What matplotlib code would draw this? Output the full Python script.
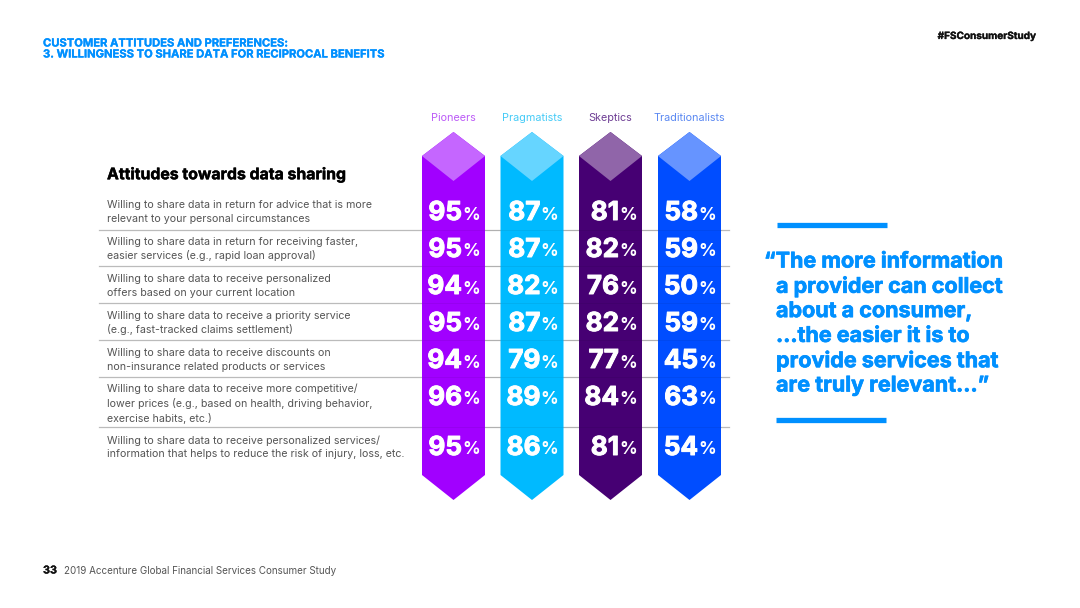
import matplotlib.pyplot as plt
import matplotlib.patheffects as pe
from matplotlib.patches import Polygon

plt.rcParams["font.family"] = ["Inter", "DejaVu Sans"]

segments = ["Pioneers", "Pragmatists", "Skeptics", "Traditionalists"]
pioneers = [95, 95, 94, 95, 94, 96, 95]
pragmatists = [87, 87, 82, 87, 79, 89, 86]
skeptics = [81, 82, 76, 82, 77, 84, 81]
traditionalists = [58, 59, 50, 59, 45, 63, 54]
statements = [
    "Willing to share data in return for advice that is more\nrelevant to your personal circumstances",
    "Willing to share data in return for receiving faster,\neasier services (e.g., rapid loan approval)",
    "Willing to share data to receive personalized\noffers based on your current location",
    "Willing to share data to receive a priority service\n(e.g., fast-tracked claims settlement)",
    "Willing to share data to receive discounts on\nnon-insurance related products or services",
    "Willing to share data to receive more competitive/\nlower prices (e.g., based on health, driving behavior,\nexercise habits, etc.)",
    "Willing to share data to receive personalized services/\ninformation that helps to reduce the risk of injury, loss, etc.",
]
quote_lines = [
    "\u201cThe more information",
    "a provider can collect",
    "about a consumer,",
    "...the easier it is to",
    "provide services that",
    "are truly relevant...\u201d",
]

# layout in pixels
col_left = [422, 500.5, 579, 658]
col_w = 63
col_dark = ["#A100FF", "#00BAFF", "#460073", "#004DFF"]
col_light = ["#C566FF", "#66D5FF", "#9065A9", "#6694FF"]
col_label = ["#BC5CF7", "#45CBF7", "#6F3F95", "#5A88F2"]
row_y = [211, 248, 285, 322, 359, 396, 446]
rule_y = [229.5, 266, 302.5, 339.5, 376.5, 426.5]
text_y = [212, 249, 286, 323, 360, 403.5, 447]
blue = "#0090FF"
grey = "#555555"


def thick(color, width):
    return [pe.withStroke(linewidth=width, foreground=color)]


fig = plt.figure(figsize=(10.8, 6.08), dpi=100)
ax = fig.add_axes([0, 0, 1, 1])
ax.set_xlim(0, 1080)
ax.set_ylim(608, 0)
ax.axis("off")

ax.text(43, 43.5, "CUSTOMER ATTITUDES AND PREFERENCES:", fontsize=8.05, fontweight="bold", color=blue, va="center", path_effects=thick(blue, 0.2))
ax.text(43, 54.5, "3. WILLINGNESS TO SHARE DATA FOR RECIPROCAL BENEFITS", fontsize=8.05, fontweight="bold", color=blue, va="center", path_effects=thick(blue, 0.2))
ax.text(1036, 36, "#FSConsumerStudy", fontsize=7.2, fontweight="bold", color="#111111", va="center", ha="right", path_effects=thick("#111111", 0.2))

ax.text(107, 174.5, "Attitudes towards data sharing", fontsize=11.4, fontweight="bold", color="#000000", va="center", path_effects=thick("#000000", 0.3))
for y, s in zip(text_y, statements):
    ax.text(107, y, s, fontsize=7.67, color=grey, va="center", linespacing=1.42)

values = [pioneers, pragmatists, skeptics, traditionalists]
for x, dark, light, lab, name, vals in zip(col_left, col_dark, col_light, col_label, segments, values):
    mid = x + col_w / 2
    ax.add_patch(Polygon([(x, 156), (mid, 132), (x + col_w, 156), (x + col_w, 475), (mid, 500), (x, 475)], closed=True, fc=dark, ec="none", zorder=2))
    ax.add_patch(Polygon([(x, 156), (mid, 132), (x + col_w, 156), (mid, 181)], closed=True, fc=light, ec="none", zorder=3))
    ax.text(mid, 118, name, fontsize=7.8, color=lab, ha="center", va="center")
    for y, v in zip(row_y, vals):
        ax.text(mid + 8.5, y + 2, str(v), fontsize=18.8, fontweight="bold", color="white", ha="right", va="center", zorder=5, path_effects=thick("white", 0.7))
        ax.text(mid + 8.5, y + 4, "%", fontsize=12.5, fontweight="bold", color="white", ha="left", va="center", zorder=5)

for y in rule_y:
    ax.plot([99, 729], [y, y], color="#BBBBBB", lw=0.9, zorder=1)
    # rule stays faintly visible across the columns
    ax.plot([422, 721], [y, y], color="#000000", lw=0.7, alpha=0.06, zorder=4)

ax.plot([777, 887], [224.5, 224.5], color=blue, lw=3.8, solid_capstyle="butt")
ax.plot([776, 886], [420, 420], color=blue, lw=3.8, solid_capstyle="butt")
for i, line in enumerate(quote_lines):
    y = 261.5 + i * 24.8
    ax.text(764 if i == 0 else 776, y, line, fontsize=15.5, fontweight="bold", color=blue, va="center", path_effects=thick(blue, 0.5))

ax.text(43, 570.5, "33", fontsize=7.8, fontweight="bold", color="#111111", va="center", path_effects=thick("#111111", 0.2))
ax.text(64, 570.5, "2019 Accenture Global Financial Services Consumer Study", fontsize=7.1, color=grey, va="center")

fig.savefig("out.png", dpi=100)
plt.close(fig)
